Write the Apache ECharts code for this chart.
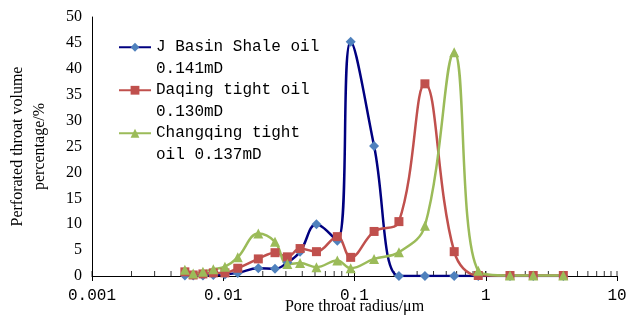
<!DOCTYPE html>
<html><head><meta charset="utf-8">
<script src="https://cdn.jsdelivr.net/npm/echarts@6/dist/echarts.min.js"></script>
<style>html,body{margin:0;padding:0;background:#fff}#c{width:630px;height:320px}</style>
</head><body><div id="c"></div>
<script>
const radius = [0.0051, 0.0059, 0.0070, 0.0084, 0.0103, 0.0129, 0.0185, 0.0248, 0.0308, 0.0385, 0.0513, 0.074, 0.0935, 0.141, 0.218, 0.344, 0.575, 0.877, 1.53, 2.30, 3.90];
const jBasin = [0.1, 0.1, 0.1, 0.2, 0.3, 0.6, 1.5, 1.4, 2.6, 4.7, 10.0, 6.8, 45.2, 25.1, 0, 0, 0, 0, 0, 0, 0];
const daqing = [0.8, 0.2, 0.4, 0.6, 0.6, 1.5, 3.3, 4.5, 3.7, 5.3, 4.7, 7.6, 3.6, 8.6, 10.5, 37.1, 4.7, 0.1, 0.1, 0.1, 0.1];
const changqing = [1.2, 0.5, 0.8, 1.3, 1.8, 3.6, 8.2, 6.6, 2.3, 2.5, 1.7, 3.0, 1.5, 3.3, 4.6, 9.7, 43.2, 1.0, 0.1, 0.1, 0.1];
const seriesNames = ['J Basin Shale oil\n0.141mD', 'Daqing tight oil\n0.130mD', 'Changqing tight\noil 0.137mD'];
const minorTickValues = [];
[0.001, 0.01, 0.1, 1].forEach(d => { for (let k = 1; k <= 10; k++) minorTickValues.push(+(d * k).toPrecision(3)); });
const yMin = 0, yMax = 50, yStep = 5;
const xMin = 0.001, xMax = 10;

const pairs = arr => radius.map((r, i) => [r, arr[i]]);
const chart = echarts.init(document.getElementById('c'), null, {renderer: 'canvas'});
const serif = 'Liberation Serif, Times New Roman, serif';
const mono = 'Liberation Mono, monospace';
function lineSeries(name, data, lineColor, markColor, symbol, size) {
  return {
    name, type: 'line', data: pairs(data), smooth: 0.4,
    symbol, symbolSize: size, showSymbol: true,
    lineStyle: {color: lineColor, width: 2.5},
    itemStyle: {color: markColor},
    emphasis: {disabled: true}, z: 3
  };
}
chart.setOption({
  animation: false,
  backgroundColor: '#fff',
  grid: {left: 92, right: 13, top: 17, bottom: 44, containLabel: false, outerBoundsMode: 'none'},
  legend: {
    left: 118, top: 15, orient: 'vertical', padding: 0, itemGap: -21.5,
    itemWidth: 32, itemHeight: 11, selectedMode: false,
    data: seriesNames,
    formatter: name => '\n' + name,
    textStyle: {fontFamily: mono, fontSize: 16, color: '#000', lineHeight: 21.5}
  },
  xAxis: {
    type: 'log', logBase: 10, min: xMin, max: xMax,
    name: 'Pore throat radius/μm', nameLocation: 'middle', nameGap: 23, nameMoveOverlap: false,
    nameTextStyle: {fontFamily: serif, fontSize: 16, color: '#000'},
    axisLine: {lineStyle: {color: '#000', width: 1}},
    axisTick: {show: true, length: 5, lineStyle: {color: '#000'}},
    axisLabel: {fontFamily: mono, fontSize: 16, color: '#000', margin: 12, formatter: v => String(+v.toPrecision(3))},
    splitLine: {show: false}
  },
  yAxis: {
    type: 'value', min: yMin, max: yMax, interval: yStep,
    name: 'Perforated throat volume\npercentage/%', nameLocation: 'middle', nameGap: 41, nameMoveOverlap: false,
    nameTextStyle: {fontFamily: serif, fontSize: 16, color: '#000', lineHeight: 22},
    axisLine: {show: true, lineStyle: {color: '#000', width: 1}},
    axisTick: {show: false},
    axisLabel: {fontFamily: serif, fontSize: 16, color: '#000', margin: 10},
    splitLine: {show: false}
  },
  series: [
    {
      type: 'scatter', data: minorTickValues.map(v => [v, 0]), symbol: 'rect',
      symbolSize: [1, 5], symbolOffset: [0, -2.5], itemStyle: {color: '#000'},
      silent: true, z: 1, clip: false
    },
    lineSeries(seriesNames[0], jBasin, '#000080', '#4F81BD', 'diamond', 10),
    lineSeries(seriesNames[1], daqing, '#C0504D', '#C0504D', 'rect', 9),
    lineSeries(seriesNames[2], changqing, '#9BBB59', '#9BBB59', 'triangle', 10)
  ]
});
</script></body></html>
